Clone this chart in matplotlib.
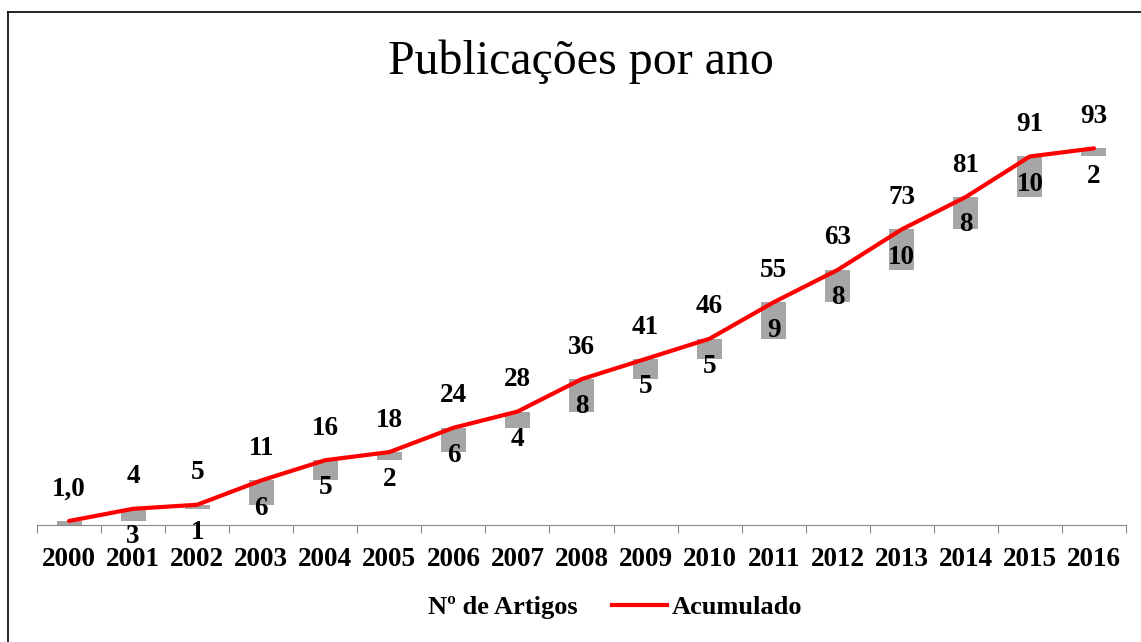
import numpy as np
import matplotlib.pyplot as plt
from matplotlib.patches import Patch
from matplotlib.lines import Line2D

anos = ["2000", "2001", "2002", "2003", "2004", "2005", "2006", "2007", "2008",
        "2009", "2010", "2011", "2012", "2013", "2014", "2015", "2016"]
artigos = [1, 3, 1, 6, 5, 2, 6, 4, 8, 5, 5, 9, 8, 10, 8, 10, 2]
acumulado = [1, 4, 5, 11, 16, 18, 24, 28, 36, 41, 46, 55, 63, 73, 81, 91, 93]
rotulos_acum = ["1,0"] + [str(v) for v in acumulado[1:]]
rotulos_artigos = [""] + [str(v) for v in artigos[1:]]

plt.rcParams["font.family"] = ["Liberation Serif", "DejaVu Serif"]

fig = plt.figure(figsize=(11.41, 6.42), dpi=100)
ax = fig.add_axes([37 / 1141, 117 / 642, 1089 / 1141, 405 / 642])

x = np.arange(len(anos))
base = np.array(acumulado) - np.array(artigos)
ax.bar(x, artigos, bottom=base, width=0.39, color="#A6A6A6", zorder=2)
ax.plot(x, acumulado, color="#FF0000", linewidth=3, zorder=3,
        solid_capstyle="round")

for xi, yi, txt in zip(x, acumulado, rotulos_acum):
    ax.annotate(txt, (xi, yi), xytext=(0, 23), textcoords="offset points",
                ha="center", va="center", fontsize=19.5, fontweight="bold")
for xi, yi, txt in zip(x, acumulado, rotulos_artigos):
    ax.annotate(txt, (xi, yi), xytext=(0, -20), textcoords="offset points",
                ha="center", va="center", fontsize=19.5, fontweight="bold")

ax.set_xlim(-0.5, len(anos) - 0.5)
ax.set_ylim(0, 100)
ax.set_yticks([])
for s in ["left", "right", "top"]:
    ax.spines[s].set_visible(False)
ax.spines["bottom"].set_color("#888888")
ax.set_xticks(np.arange(len(anos) + 1) - 0.5)
ax.set_xticklabels([])
ax.tick_params(axis="x", which="major", length=6, color="#888888")
ax.set_xticks(x, minor=True)
ax.set_xticklabels(anos, minor=True, fontsize=19.5, fontweight="bold")
ax.tick_params(axis="x", which="minor", length=0, pad=16)

fig.text(581 / 1141, 1 - 62 / 642, "Publicações por ano", ha="center",
         va="center", fontsize=34.5)

handles = [Patch(facecolor="none", edgecolor="none"),
           Line2D([0], [0], color="#FF0000", linewidth=3)]
fig.legend(handles, ["Nº de Artigos", "Acumulado"], loc="center",
           bbox_to_anchor=(585 / 1141, 1 - 607 / 642), ncol=2, frameon=False,
           prop={"size": 19, "weight": "bold"}, handlelength=2.1,
           handletextpad=0.19, columnspacing=1.3)

# moldura da figura (só esquerda e topo aparecem no recorte)
fig.add_artist(Line2D([8 / 1141, 8 / 1141], [0, 1 - 12 / 642], color="black",
                      linewidth=1.2, transform=fig.transFigure))
fig.add_artist(Line2D([8 / 1141, 1], [1 - 12 / 642, 1 - 12 / 642],
                      color="black", linewidth=1.2, transform=fig.transFigure))

fig.savefig("out.png", dpi=100)
